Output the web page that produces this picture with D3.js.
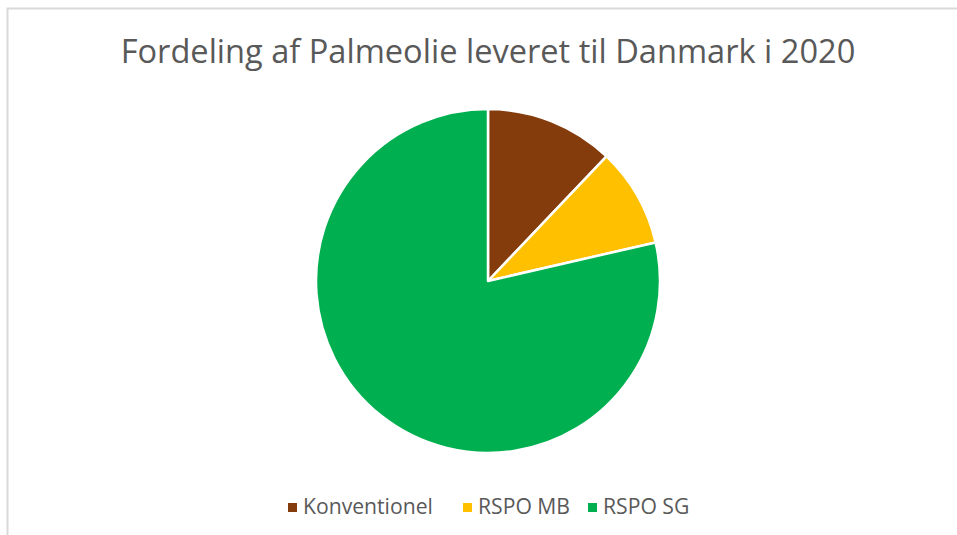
<!DOCTYPE html>
<html>
<head>
<meta charset="utf-8">
<script src="https://cdn.jsdelivr.net/npm/d3@7"></script>
<style>
  body { margin: 0; background: #fff; }
  svg { display: block; }
</style>
</head>
<body>
<script>
// data (share in percent)
var categories = ["Konventionel", "RSPO MB", "RSPO SG"];
var shares = [12.1, 9.3, 78.6];
var colors = ["#843c0c", "#ffc000", "#00b050"];

var width = 957, height = 535;
var cx = 488, cy = 281, radius = 172;

var svg = d3.select("body").append("svg")
  .attr("width", width)
  .attr("height", height);

// chart frame
svg.append("path")
  .attr("d", "M7.5," + height + "V8.5H" + width)
  .attr("fill", "none")
  .attr("stroke", "#d9d9d9")
  .attr("stroke-width", 2);

var title = svg.append("text")
  .attr("x", cx)
  .attr("y", 63)
  .attr("text-anchor", "middle")
  .attr("fill", "#595959")
  .style("font-family", "'Open Sans', sans-serif")
  .style("font-size", "30px")
  .text("Fordeling af Palmeolie leveret til Danmark i 2020");
// squeeze to the width of the original title
var tw = title.node().getComputedTextLength();
title.style("font-size", (30 * 735 / tw) + "px");

var pie = d3.pie().sort(null).value(function(d) { return d; });
var arc = d3.arc().innerRadius(0).outerRadius(radius);

var g = svg.append("g").attr("transform", "translate(" + cx + "," + cy + ")");
g.selectAll("path")
  .data(pie(shares))
  .enter().append("path")
  .attr("d", arc)
  .attr("fill", function(d, i) { return colors[i]; })
  .attr("stroke", "#fff")
  .attr("stroke-width", 2.5)
  .attr("stroke-linejoin", "round");

// legend
var legendX = [288, 463, 588];
var legend = svg.append("g");
var items = legend.selectAll("g")
  .data(categories)
  .enter().append("g")
  .attr("transform", function(d, i) { return "translate(" + legendX[i] + ",0)"; });

items.append("rect")
  .attr("x", 0)
  .attr("y", 503)
  .attr("width", 9)
  .attr("height", 9)
  .attr("fill", function(d, i) { return colors[i]; });

var labels = items.append("text")
  .attr("x", 15)
  .attr("y", 514)
  .attr("fill", "#595959")
  .style("font-family", "'Open Sans', sans-serif")
  .style("font-size", "17px")
  .text(function(d) { return d; });
// size the legend font so "Konventionel" is as wide as in the original
var lw = labels.node().getComputedTextLength();
labels.style("font-size", (17 * 130 / lw) + "px");
</script>
</body>
</html>
